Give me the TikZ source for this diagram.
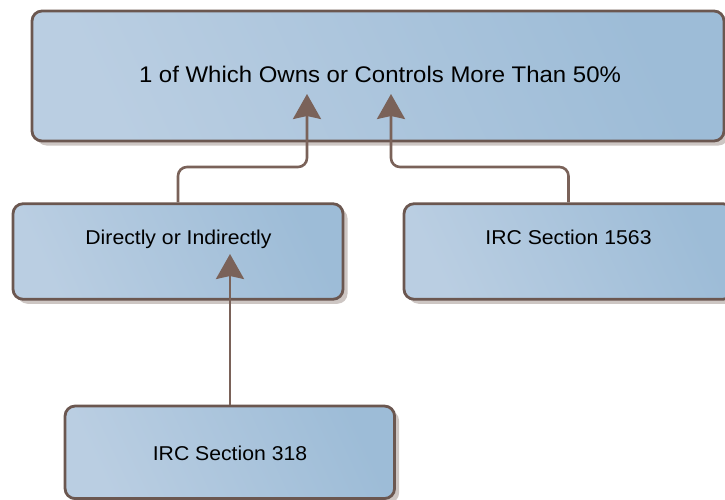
\documentclass[tikz,border=0pt]{standalone}
\usepackage{fontspec}
\setmainfont[FakeStretch=1.06]{Liberation Sans}
\usetikzlibrary{arrows.meta,shadows}

\definecolor{boxedge}{HTML}{6B5750}
\definecolor{linkcol}{HTML}{7A6259}
\definecolor{fillA}{HTML}{BACEE2}
\definecolor{fillB}{HTML}{9DBCD7}
\definecolor{shadowcol}{HTML}{CDC6C3}

\tikzset{
  panel/.style={draw=boxedge, line width=2.8pt, rounded corners=10pt,
    left color=fillA, right color=fillB, shading angle=115,
    drop shadow={shadow xshift=4.5pt, shadow yshift=-4.5pt, fill=shadowcol, opacity=1},
    inner sep=0pt},
  caption/.style={anchor=base, inner sep=0pt, text=black},
  link/.style={draw=linkcol, line width=2.6pt, rounded corners=9pt,
    -{Stealth[length=25pt, width=28pt, inset=3pt]}}
}

\begin{document}
\begin{tikzpicture}[x=1pt, y=-1pt]
  \useasboundingbox (0,0) rectangle (725,500);

  % boxes (centre and size, in page pixels)
  \node[panel, minimum width=692pt, minimum height=130pt] (top) at (378,76) {};
  \node[panel, minimum width=330pt, minimum height=95.5pt] (lb) at (178,251.5) {};
  \node[panel, minimum width=329pt, minimum height=95.5pt] (rb) at (568.5,251.5) {};
  \node[panel, minimum width=329.5pt, minimum height=92.5pt] (bb) at (229.8,452.3) {};

  % captions
  \node[caption, font=\fontsize{22.6pt}{27pt}\selectfont] (toptext) at (380,83) {1 of Which Owns or Controls More Than 50\%};
  \node[caption, font=\fontsize{20pt}{24pt}\selectfont] (lbtext) at (178.5,244) {Directly or Indirectly};
  \node[caption, font=\fontsize{20pt}{24pt}\selectfont] (rbtext) at (568.5,244) {IRC Section 1563};
  \node[caption, font=\fontsize{20pt}{24pt}\selectfont] (bbtext) at (230,460) {IRC Section 318};

  % arrow ends and bends
  \coordinate (tipL) at (307,94);
  \coordinate (tipR) at (391,94);
  \coordinate (bendL) at (307,167);
  \coordinate (bendR) at (391,167);
  \coordinate (tipB) at (230,254);

  % connectors
  \draw[link] (lb.north) |- (bendL) -- (tipL);
  \draw[link] (rb.north) |- (bendR) -- (tipR);
  \draw[link] (bb.north -| tipB) -- (tipB);
\end{tikzpicture}
\end{document}
